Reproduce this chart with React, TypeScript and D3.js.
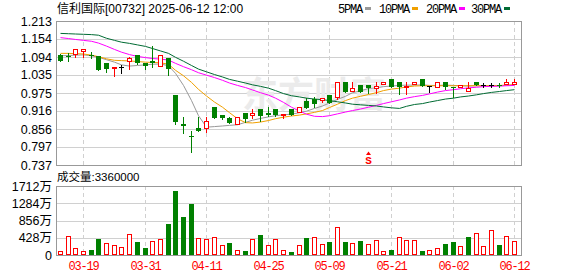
import React from "react";
import * as d3 from "d3";

const dates = [
  "03-14","03-17","03-18","03-19","03-20","03-21","03-24","03-25","03-26","03-27",
  "03-28","03-31","04-01","04-02","04-03","04-07","04-08","04-09","04-10","04-11",
  "04-14","04-15","04-16","04-17","04-22","04-23","04-24","04-25","04-28","04-29",
  "04-30","05-02","05-06","05-07","05-08","05-09","05-12","05-13","05-14","05-15",
  "05-16","05-19","05-20","05-21","05-22","05-23","05-26","05-27","05-28","05-29",
  "05-30","06-02","06-03","06-04","06-05","06-06","06-09","06-10","06-11","06-12",
];

const opens = [
  1.101,1.097,1.104,1.114,1.100,1.097,1.073,1.059,1.061,1.082,
  1.101,1.073,1.081,1.064,1.090,0.968,0.872,0.832,0.858,0.860,
  0.930,0.902,0.891,0.871,0.910,0.902,0.921,0.910,0.921,0.903,
  0.921,0.913,0.949,0.954,0.952,0.968,0.961,1.010,0.982,1.001,
  1.001,0.993,1.004,1.021,1.012,0.994,1.004,1.021,0.998,0.996,
  1.012,0.996,0.996,0.981,1.010,1.001,1.001,1.001,1.004,1.004,
];
const highs = [
  1.103,1.106,1.120,1.121,1.110,1.098,1.075,1.061,1.068,1.093,
  1.101,1.074,1.130,1.101,1.091,0.968,0.897,0.850,0.897,0.897,
  0.930,0.903,0.897,0.897,0.910,0.921,0.921,0.928,0.921,0.906,
  0.921,0.930,0.960,0.963,0.957,0.968,1.010,1.010,1.012,1.001,
  1.001,1.012,1.010,1.021,1.012,1.012,1.012,1.021,0.999,1.012,
  1.012,0.996,1.001,1.010,1.010,1.007,1.007,1.007,1.021,1.021,
];
const lows = [
  1.080,1.082,1.095,1.095,1.092,1.051,1.043,1.032,1.042,1.053,
  1.071,1.053,1.062,1.063,1.035,0.872,0.842,0.781,0.850,0.845,
  0.891,0.890,0.875,0.871,0.880,0.893,0.882,0.899,0.900,0.891,
  0.902,0.913,0.924,0.930,0.944,0.941,0.954,0.979,0.982,0.979,
  0.974,0.974,1.004,0.996,0.971,0.971,1.004,0.998,0.979,0.996,
  0.988,0.963,0.996,0.981,1.001,0.996,0.996,0.996,1.004,1.004,
];
const closes = [
  1.082,1.093,1.120,1.120,1.098,1.051,1.053,1.061,1.061,1.092,
  1.073,1.065,1.073,1.101,1.053,0.880,0.866,0.829,0.850,0.882,
  0.891,0.891,0.875,0.897,0.888,0.910,0.900,0.902,0.903,0.906,
  0.902,0.930,0.924,0.938,0.957,0.941,1.010,0.979,0.992,0.979,
  0.990,0.999,1.010,0.996,0.996,0.998,1.012,0.998,0.998,1.012,
  0.996,0.993,1.001,0.992,1.001,1.001,1.001,0.997,1.012,1.012,
];
// volume in 万 shares
const volumes = [
  99,463,165,99,124,397,298,248,190,521,
  322,174,347,397,769,1588,943,1265,422,397,
  447,248,298,124,99,397,496,248,397,124,
  74,248,422,447,273,322,695,322,298,347,
  273,372,99,124,447,372,372,99,124,174,
  273,322,223,447,546,223,620,248,471,336,
];
const closeBeforeFirst = 1.078;

const ma5 = [
  1.098,1.099,1.100,1.101,1.098,1.093,1.085,1.077,1.068,1.064,
  1.066,1.068,1.070,1.071,1.065,1.040,1.000,0.950,0.900,0.862,
  0.864,0.866,0.868,0.870,0.878,0.885,0.891,0.896,0.900,0.903,
  0.905,0.910,0.915,0.924,0.932,0.942,0.954,0.964,0.976,0.982,
  0.990,0.992,0.996,0.998,1.000,1.001,1.001,1.002,1.000,1.000,
  1.001,1.000,0.999,0.998,0.999,0.999,0.999,0.999,1.000,1.003,
];
const ma10 = [
  1.106,1.106,1.105,1.104,1.100,1.095,1.088,1.083,1.082,1.081,
  1.079,1.077,1.076,1.075,1.070,1.050,1.032,1.010,0.987,0.965,
  0.945,0.928,0.910,0.890,0.877,0.876,0.879,0.884,0.890,0.895,
  0.899,0.902,0.906,0.911,0.917,0.927,0.938,0.950,0.958,0.964,
  0.970,0.976,0.983,0.988,0.991,0.995,0.998,0.999,0.999,0.999,
  0.999,0.999,0.999,0.999,0.999,0.999,0.999,1.000,1.001,1.002,
];
const ma20 = [
  1.158,1.155,1.152,1.149,1.146,1.140,1.130,1.119,1.110,1.102,
  1.096,1.092,1.089,1.087,1.084,1.073,1.062,1.052,1.042,1.034,
  1.026,1.017,1.008,1.000,0.993,0.985,0.976,0.968,0.958,0.944,
  0.928,0.915,0.905,0.898,0.897,0.900,0.906,0.912,0.917,0.922,
  0.928,0.934,0.940,0.946,0.952,0.958,0.963,0.967,0.972,0.978,
  0.983,0.986,0.989,0.992,0.994,0.996,0.997,0.998,0.999,1.000,
];
const ma30 = [
  1.172,1.171,1.170,1.169,1.168,1.166,1.156,1.149,1.143,1.139,
  1.134,1.129,1.122,1.114,1.106,1.093,1.080,1.066,1.054,1.045,
  1.036,1.028,1.020,1.014,1.008,1.002,0.997,0.991,0.983,0.973,
  0.966,0.962,0.958,0.955,0.953,0.950,0.946,0.942,0.938,0.936,
  0.934,0.932,0.929,0.926,0.924,0.931,0.937,0.940,0.945,0.950,
  0.955,0.958,0.962,0.965,0.969,0.973,0.977,0.980,0.983,0.986,
];

const priceTicks = [1.213, 1.154, 1.094, 1.035, 0.975, 0.916, 0.856, 0.797, 0.737];
const volTicks = [0, 428, 856, 1284, 1712];
const xLabels = ["03-19", "03-31", "04-11", "04-25", "05-09", "05-21", "06-02", "06-12"];
const signalDates = ["05-16"];
const signalLabel = "S";
const title = "信利国际[00732] 2025-06-12 12:00";
const maNames = ["5PMA", "10PMA", "20PMA", "30PMA"];

const RED = "#ff0000";
const GREEN = "#008000";
const GRID = "#d0d0d0";
const BORDER = "#999999";
const sans = "'Liberation Sans', Arial, 'Noto Sans CJK SC', sans-serif";
const mono = "'Liberation Mono', 'DejaVu Sans Mono', monospace";

export default function App() {
  const n = dates.length;
  const L = 56, R = 522, PT = 21, PB = 165, VT = 186, VB = 255;
  const x = d3.scaleBand<number>().domain(d3.range(n)).range([L, 518]);
  const cx = (i: number) => Math.round((x(i) as number) + x.bandwidth() / 2);
  const y = d3.scaleLinear().domain([priceTicks[priceTicks.length - 1], priceTicks[0]]).range([PB, PT]);
  const yv = d3.scaleLinear().domain([0, volTicks[volTicks.length - 1]]).range([VB, VT]);
  const sy = (v: number) => Math.round(y(v));
  const syv = (v: number) => Math.round(yv(v));

  const maSeries = [
    { name: maNames[0], values: ma5, color: "#999999" },
    { name: maNames[1], values: ma10, color: "#f0a000" },
    { name: maNames[2], values: ma20, color: "#ff00ff" },
    { name: maNames[3], values: ma30, color: "#006b33" },
  ];
  const line = d3.line<number>().x((_, i) => cx(i) + 0.5).y((v) => y(v));

  const legendStarts = [338, 379, 426, 471];
  const labelIdx = xLabels.map((d) => dates.indexOf(d));

  return (
    <svg width={578} height={276} style={{ position: "absolute", left: 0, top: 0, background: "#fff" }}>
      <rect x={0} y={0} width={578} height={276} fill="#fff" />
      {/* title */}
      <text x={57} y={12.5} fontSize={12} fontFamily={sans} fill="#000">{title}</text>
      {/* legend */}
      {maSeries.map((s, k) => (
        <g key={s.name}>
          <text x={legendStarts[k]} y={12.5} fontSize={12} letterSpacing={-1.2} fontFamily={mono} fill="#000">{s.name}</text>
          <rect x={legendStarts[k] + s.name.length * 6 + 3} y={7} width={6} height={3} fill={s.color} />
        </g>
      ))}

      {/* grid */}
      {priceTicks.map((t) => (
        <line key={"pg" + t} x1={L} x2={R} y1={sy(t) + 0.5} y2={sy(t) + 0.5} stroke={GRID} strokeWidth={1} />
      ))}
      {volTicks.map((t) => (
        <line key={"vg" + t} x1={L} x2={R} y1={syv(t) + 0.5} y2={syv(t) + 0.5} stroke={GRID} strokeWidth={1} />
      ))}
      {labelIdx.map((i) => (
        <g key={"vl" + i}>
          <line x1={cx(i) + 0.5} x2={cx(i) + 0.5} y1={PT} y2={PB} stroke={GRID} strokeDasharray="4,3" />
          <line x1={cx(i) + 0.5} x2={cx(i) + 0.5} y1={VT} y2={VB} stroke={GRID} strokeDasharray="4,3" />
        </g>
      ))}

      {/* watermark */}
      <text x={242} y={108} fontSize={36} fontWeight="bold" fontFamily="'Noto Sans CJK SC', sans-serif" fill="#ebebeb">东方财富</text>

      {/* borders */}
      <rect x={L + 0.5} y={PT + 0.5} width={R - L - 1} height={PB - PT} fill="none" stroke={BORDER} />
      <rect x={L + 0.5} y={VT + 0.5} width={R - L - 1} height={VB - VT} fill="none" stroke={BORDER} />

      {/* y labels */}
      {priceTicks.map((t) => (
        <text key={"pl" + t} x={52} y={y(t)} dy="0.36em" textAnchor="end" fontSize={12.5} fontFamily={sans} fill="#000">
          {t.toFixed(3)}
        </text>
      ))}
      {volTicks.map((t) => (
        <text key={"vlab" + t} x={52} y={yv(t)} dy="0.36em" textAnchor="end" fontSize={12.5} fontFamily={sans} fill="#000">
          {t === 0 ? "0" : t + "万"}
        </text>
      ))}
      <text x={57} y={181} fontSize={11.5} fontFamily={sans} fill="#000">
        {"成交量:" + volumes[n - 1] * 10000}
      </text>

      {/* MA lines */}
      {maSeries.map((s) => (
        <path key={"ma" + s.name} d={line(s.values) || ""} fill="none" stroke={s.color} strokeWidth={1} />
      ))}

      {/* candles */}
      {d3.range(n).map((i) => {
        const o = opens[i], c = closes[i], h = highs[i], l = lows[i];
        const px = cx(i);
        const col = c > o ? RED : c < o ? GREEN : "#000";
        return (
          <g key={"c" + i}>
            <line x1={px + 0.5} x2={px + 0.5} y1={sy(h)} y2={sy(l) + 1} stroke={col} />
            {c > o && (
              <rect x={px - 1.5} y={sy(c) + 0.5} width={4} height={Math.max(sy(o) - sy(c), 1)} fill="#fff" stroke={RED} />
            )}
            {c < o && (
              <rect x={px - 2} y={sy(o)} width={5} height={Math.max(sy(c) - sy(o), 1)} fill={GREEN} />
            )}
            {c === o && <line x1={px - 2} x2={px + 3} y1={sy(o) + 0.5} y2={sy(o) + 0.5} stroke="#000" />}
          </g>
        );
      })}

      {/* signal markers */}
      {signalDates.map((d) => {
        const px = cx(dates.indexOf(d)) + 0.5;
        return (
          <g key={"s" + d}>
            <path d={`M${px},${151.5}L${px + 2.5},${155}L${px - 2.5},${155}Z`} fill={RED} />
            <text x={px} y={164} textAnchor="middle" fontSize={11} fontFamily={mono} fontWeight="bold" fill={RED}>{signalLabel}</text>
          </g>
        );
      })}

      {/* volume bars */}
      {d3.range(n).map((i) => {
        const prev = i === 0 ? closeBeforeFirst : closes[i - 1];
        const up = closes[i] >= prev;
        const px = cx(i);
        const top = syv(volumes[i]);
        return up ? (
          <rect key={"v" + i} x={px - 1.5} y={top + 0.5} width={4} height={Math.max(VB - top - 1, 1)} fill="#fff" stroke={RED} />
        ) : (
          <rect key={"v" + i} x={px - 2} y={top} width={5} height={VB - top} fill={GREEN} />
        );
      })}

      {/* x labels */}
      {labelIdx.map((i) => (
        <text key={"xl" + i} x={cx(i) + 0.5} y={270} textAnchor="middle" fontSize={12} letterSpacing={-1.2} fontFamily={mono} fill={RED}>
          {dates[i]}
        </text>
      ))}
    </svg>
  );
}
